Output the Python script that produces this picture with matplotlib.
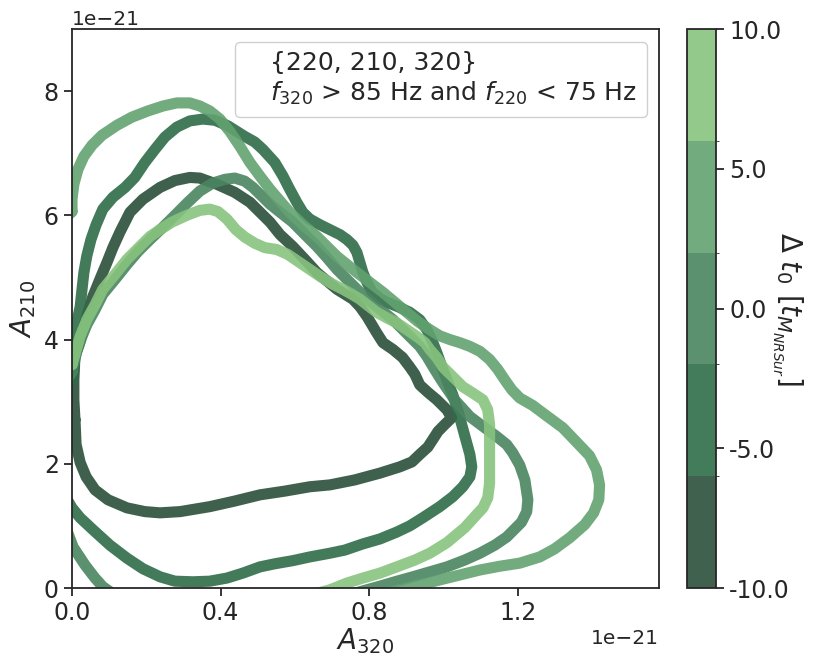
import matplotlib
matplotlib.use('Agg')
import matplotlib.pyplot as plt
from matplotlib.colors import ListedColormap, BoundaryNorm
from matplotlib.cm import ScalarMappable
from matplotlib.ticker import FormatStrFormatter

plt.rcParams['font.family'] = ['DejaVu Sans']
plt.rcParams['text.color'] = '#262626'
plt.rcParams['axes.labelcolor'] = '#262626'
plt.rcParams['xtick.color'] = '#262626'
plt.rcParams['ytick.color'] = '#262626'

escala = 1e-21

# contornos (em unidades de 1e-21), um por faixa de delta t0
dt0 = [-8, -4, 0, 4, 8]

xa = [0.008, 0.011, 0.022, 0.038, 0.062, 0.097, 0.148, 0.196, 0.237, 0.291, 0.371, 0.438, 0.506, 0.573,
      0.640, 0.694, 0.761, 0.829, 0.882, 0.915, 0.936, 0.958, 0.971, 0.985, 1.003, 1.022, 1.009, 0.982,
      0.958, 0.936, 0.923, 0.909, 0.890, 0.864, 0.837, 0.820, 0.794, 0.775, 0.756, 0.713, 0.659, 0.627,
      0.594, 0.560, 0.533, 0.506, 0.479, 0.438, 0.390, 0.344, 0.317, 0.277, 0.237, 0.191, 0.156, 0.129,
      0.110, 0.094, 0.075, 0.056, 0.043, 0.030, 0.019, 0.008, 0.005, 0.005, 0.008]
ya = [2.71, 2.31, 2.02, 1.79, 1.58, 1.42, 1.29, 1.23, 1.21, 1.23, 1.31, 1.40, 1.50, 1.56,
      1.63, 1.66, 1.74, 1.85, 1.95, 2.03, 2.15, 2.27, 2.39, 2.52, 2.63, 2.74, 2.87, 3.03,
      3.15, 3.27, 3.44, 3.56, 3.71, 3.84, 3.95, 4.11, 4.37, 4.53, 4.65, 4.81, 5.08, 5.29,
      5.50, 5.69, 5.89, 6.05, 6.21, 6.37, 6.50, 6.60, 6.61, 6.56, 6.45, 6.26, 6.05, 5.73,
      5.48, 5.24, 4.97, 4.69, 4.44, 4.16, 3.92, 3.73, 3.35, 3.03, 2.71]

xb = [0.0, 0.003, 0.005, 0.008, 0.013, 0.022, 0.027, 0.032, 0.040, 0.051, 0.065, 0.083, 0.110, 0.143,
      0.169, 0.196, 0.223, 0.250, 0.282, 0.317, 0.352, 0.385, 0.420, 0.465, 0.492, 0.514, 0.546, 0.568,
      0.586, 0.605, 0.621, 0.640, 0.667, 0.694, 0.721, 0.740, 0.756, 0.767, 0.775, 0.783, 0.794, 0.807,
      0.829, 0.847, 0.877, 0.909, 0.936, 0.955, 0.968, 0.982, 0.998, 1.011, 1.025, 1.038, 1.049, 1.060,
      1.071, 1.076, 1.071, 1.052, 1.025, 0.990, 0.944, 0.909, 0.874, 0.829, 0.783, 0.734, 0.694, 0.640,
      0.594, 0.546, 0.506, 0.460, 0.417, 0.371, 0.325, 0.277, 0.237, 0.191, 0.148, 0.102, 0.056, 0.022,
      0.0, -0.05, -0.05, 0.0]
yb = [3.35, 3.47, 3.76, 4.0, 4.27, 4.53, 4.81, 5.08, 5.35, 5.61, 5.85, 6.10, 6.29, 6.45,
      6.61, 6.85, 7.06, 7.26, 7.42, 7.52, 7.55, 7.53, 7.44, 7.27, 7.18, 7.06, 6.85, 6.63,
      6.42, 6.21, 6.05, 5.94, 5.85, 5.77, 5.69, 5.61, 5.52, 5.40, 5.24, 5.08, 4.92, 4.77,
      4.66, 4.60, 4.53, 4.44, 4.32, 4.16, 4.0, 3.79, 3.52, 3.32, 3.11, 2.87, 2.63, 2.39,
      2.15, 1.95, 1.79, 1.63, 1.47, 1.31, 1.13, 1.0, 0.90, 0.79, 0.71, 0.61, 0.56, 0.50,
      0.44, 0.39, 0.34, 0.24, 0.16, 0.11, 0.10, 0.11, 0.18, 0.31, 0.48, 0.69, 0.94, 1.13,
      1.29, 1.8, 3.0, 3.35]

xc = [0.0, 0.013, 0.027, 0.040, 0.062, 0.083, 0.116, 0.148, 0.178, 0.210, 0.245, 0.277, 0.312, 0.344,
      0.379, 0.412, 0.438, 0.465, 0.487, 0.511, 0.533, 0.560, 0.594, 0.627, 0.659, 0.686, 0.713, 0.740,
      0.767, 0.794, 0.820, 0.864, 0.909, 0.936, 0.955, 0.976, 0.998, 1.030, 1.071, 1.111, 1.143, 1.170,
      1.186, 1.205, 1.219, 1.227, 1.224, 1.210, 1.170, 1.138, 1.098, 1.057, 1.009, 0.963, 0.917, 0.869,
      0.829, 0.775, 0.5, 0.15, 0.1, 0.083, 0.062, 0.035, 0.003, -0.05, -0.05, 0.0]
yc = [3.48, 3.81, 4.05, 4.24, 4.48, 4.73, 4.97, 5.21, 5.42, 5.61, 5.81, 6.0, 6.21, 6.39,
      6.52, 6.58, 6.60, 6.55, 6.45, 6.31, 6.18, 6.05, 5.89, 5.69, 5.50, 5.32, 5.13, 4.97,
      4.81, 4.66, 4.53, 4.32, 4.05, 3.89, 3.73, 3.52, 3.31, 3.03, 2.76, 2.58, 2.44, 2.31,
      2.18, 1.98, 1.74, 1.42, 1.23, 1.06, 0.82, 0.69, 0.56, 0.45, 0.34, 0.26, 0.18, 0.10,
      0.03, -0.06, -0.5, -0.3, -0.05, 0.02, 0.16, 0.37, 0.66, 1.5, 3.0, 3.48]

xd = [0.0, 0.0, 0.005, 0.016, 0.032, 0.054, 0.081, 0.121, 0.161, 0.204, 0.245, 0.282, 0.317, 0.344,
      0.371, 0.398, 0.425, 0.452, 0.479, 0.506, 0.533, 0.560, 0.586, 0.621, 0.659, 0.686, 0.713, 0.740,
      0.767, 0.802, 0.837, 0.869, 0.901, 0.931, 0.963, 0.990, 1.017, 1.044, 1.071, 1.098, 1.124, 1.146,
      1.165, 1.184, 1.205, 1.240, 1.278, 1.321, 1.358, 1.393, 1.412, 1.420, 1.418, 1.404, 1.380, 1.340,
      1.299, 1.259, 1.205, 1.151, 1.098, 1.044, 0.990, 0.936, 0.882, 0.6, -0.3, -0.3, -0.1, 0.0]
yd = [6.06, 6.26, 6.5, 6.74, 6.95, 7.13, 7.29, 7.45, 7.58, 7.68, 7.76, 7.81, 7.81, 7.76,
      7.68, 7.55, 7.35, 7.11, 6.85, 6.63, 6.42, 6.23, 6.05, 5.85, 5.66, 5.50, 5.34, 5.21,
      5.08, 4.92, 4.76, 4.60, 4.44, 4.29, 4.16, 4.06, 4.0, 3.95, 3.89, 3.81, 3.68, 3.52,
      3.35, 3.19, 3.06, 2.94, 2.77, 2.58, 2.35, 2.13, 1.90, 1.66, 1.42, 1.21, 1.02, 0.81,
      0.63, 0.50, 0.40, 0.35, 0.29, 0.21, 0.13, 0.05, -0.03, -0.5, -0.5, 3.0, 5.5, 6.06]

xe = [0.0, 0.008, 0.022, 0.040, 0.062, 0.083, 0.116, 0.148, 0.183, 0.210, 0.237, 0.269, 0.309, 0.344,
      0.371, 0.393, 0.417, 0.441, 0.465, 0.492, 0.519, 0.551, 0.581, 0.613, 0.640, 0.667, 0.702, 0.729,
      0.753, 0.775, 0.796, 0.820, 0.847, 0.874, 0.901, 0.928, 0.950, 0.963, 0.982, 0.998, 1.025, 1.052,
      1.081, 1.106, 1.119, 1.124, 1.124, 1.124, 1.124, 1.119, 1.106, 1.089, 1.057, 1.009, 0.963, 0.923,
      0.874, 0.829, 0.783, 0.740, 0.694, 0.4, -0.5, -0.5, -0.1, 0.0]
ye = [3.6, 3.76, 4.05, 4.32, 4.56, 4.81, 5.05, 5.29, 5.50, 5.66, 5.77, 5.89, 6.0, 6.08,
      6.10, 6.06, 5.94, 5.77, 5.65, 5.55, 5.48, 5.45, 5.37, 5.24, 5.13, 5.02, 4.89, 4.81,
      4.73, 4.65, 4.55, 4.44, 4.35, 4.27, 4.16, 4.05, 3.95, 3.84, 3.71, 3.56, 3.40, 3.24,
      3.13, 3.03, 2.87, 2.63, 2.31, 1.98, 1.69, 1.45, 1.29, 1.18, 0.97, 0.73, 0.56, 0.45,
      0.34, 0.24, 0.16, 0.08, -0.03, -0.5, -0.5, 3.0, 3.5, 3.6]

contornos_x = [xa, xb, xc, xd, xe]
contornos_y = [ya, yb, yc, yd, ye]

limites = [-10, -6, -2, 2, 6, 10]
ticks_cb = [-10, -5, 0, 5, 10]
cores = ['#3f614d', '#437c5a', '#5c9170', '#72ab7e', '#93c98b']
cores_linha = ['#2a4f39', '#2e6d48', '#4a8560', '#62a270', '#87c37e']

cmap = ListedColormap(cores)
norm = BoundaryNorm(limites, cmap.N)

fig = plt.figure(figsize=(8.31, 6.68), dpi=100)
ax = fig.add_axes([72/831, 1-588/668, 587/831, 559/668])

for i in range(len(dt0)):
  xs = [v*escala for v in contornos_x[i]]
  ys = [v*escala for v in contornos_y[i]]
  ax.plot(xs, ys, color=cores_linha[i], lw=8, alpha=0.9, solid_joinstyle='round', solid_capstyle='round')

ax.plot([], [], ' ', label='{220, 210, 320}\n$f_{320}$ > 85 Hz and $f_{220}$ < 75 Hz')
ax.legend(loc='upper right', handlelength=0.8, handletextpad=0.2, fontsize=18, framealpha=1,
          edgecolor='#d0d0d0')

ax.set_xlim(0, 1.58*escala)
ax.set_ylim(0, 9.0*escala)
ax.set_xticks([0, 0.4*escala, 0.8*escala, 1.2*escala])
ax.set_yticks([0, 2*escala, 4*escala, 6*escala, 8*escala])
ax.set_xlabel('$A_{320}$', fontsize=20, labelpad=1)
ax.set_ylabel('$A_{210}$', fontsize=20, labelpad=4)
ax.tick_params(labelsize=17, width=1.3, length=6)
ax.xaxis.get_offset_text().set_fontsize(14.5)
ax.yaxis.get_offset_text().set_fontsize(14.5)
for s in ax.spines.values():
  s.set_color('#262626')
  s.set_linewidth(1.3)

cax = fig.add_axes([687/831, 1-588/668, 29/831, 559/668])
cb = fig.colorbar(ScalarMappable(norm=norm, cmap=cmap), cax=cax, ticks=ticks_cb)
cb.ax.yaxis.set_major_formatter(FormatStrFormatter('%.1f'))
cb.ax.tick_params(labelsize=17, width=1.3, length=6)
cb.outline.set_edgecolor('#262626')
cb.outline.set_linewidth(1.3)
cb.set_label(r'$\Delta\ t_0\ [t_{M_{NRSur}}]$', rotation=270, labelpad=10, fontsize=20)

plt.savefig('out.png', dpi=100)
plt.close()
